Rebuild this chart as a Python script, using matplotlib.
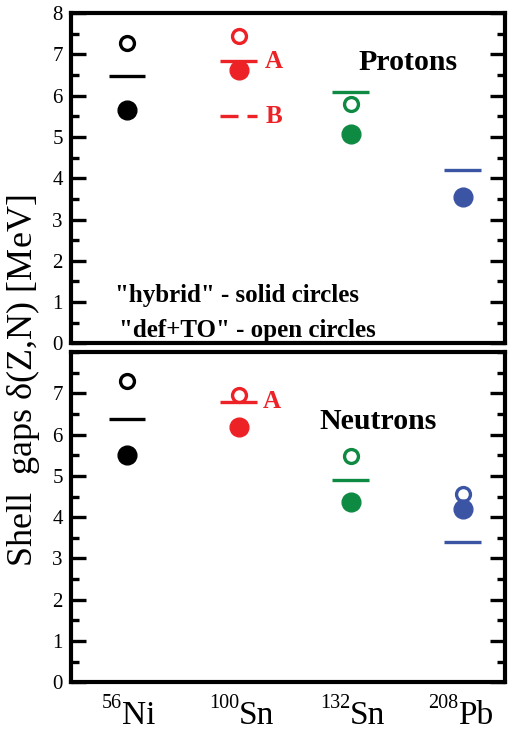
import numpy as np
import matplotlib.pyplot as plt
from matplotlib.ticker import MultipleLocator
import matplotlib.transforms as mtransforms

plt.rcParams['font.family'] = ['Liberation Serif', 'DejaVu Serif']

# nuclei along the x axis
mass_numbers = ['56', '100', '132', '208']
elements = ['Ni', 'Sn', 'Sn', 'Pb']
colors = ['black', '#ec2227', '#0e8a43', '#3b54a4']

# proton shell gaps [MeV]
p_hybrid = [5.66, 6.63, 5.06, 3.54]
p_deftO = [7.27, 7.44, 5.79, 3.58]
p_exp = [6.47, 6.83, 6.08, 4.20]
p_exp_B = 5.50  # second value for 100Sn (dashed)

# neutron shell gaps [MeV]
n_hybrid = [5.50, 6.18, 4.36, 4.20]
n_deftO = [7.30, 6.97, 5.47, 4.55]
n_exp = [6.38, 6.80, 4.90, 3.41]

x = np.arange(1, 5)
half = 0.165

fig = plt.figure(figsize=(5.15, 7.32), dpi=100)
ax1 = fig.add_axes([0.138, 0.531, 0.843, 0.451])
ax2 = fig.add_axes([0.138, 0.068, 0.843, 0.451])


def draw_panel(ax, hyb, dto, exp):
    for i in range(4):
        ax.plot([x[i] - half, x[i] + half], [exp[i], exp[i]], color=colors[i], lw=2.4, solid_capstyle='butt', zorder=2)
        ax.plot(x[i], dto[i], 'o', ms=10, mfc='white', mec=colors[i], mew=2.4, zorder=3)
        ax.plot(x[i], hyb[i], 'o', ms=13.5, color=colors[i], mec=colors[i], zorder=4)
    ax.set_xlim(0.5, 4.38)
    ax.set_ylim(0, 8)
    ax.yaxis.set_major_locator(MultipleLocator(1))
    ax.yaxis.set_minor_locator(MultipleLocator(0.5))
    ax.tick_params(axis='y', which='both', direction='in', left=True, right=True, labelsize=15, pad=6)
    ax.tick_params(axis='y', which='major', length=11, width=2.4)
    ax.tick_params(axis='y', which='minor', length=6, width=2.4)
    ax.tick_params(axis='x', which='both', bottom=False, top=False, labelbottom=False)
    for s in ax.spines.values():
        s.set_linewidth(3)


draw_panel(ax1, p_hybrid, p_deftO, p_exp)
draw_panel(ax2, n_hybrid, n_deftO, n_exp)

# dashed value B for 100Sn protons
ax1.plot([x[1] - half, x[1] + half], [p_exp_B, p_exp_B], color=colors[1], lw=2.4, dashes=(5.4, 2.7), zorder=2)
ax1.text(x[1] + 0.235, p_exp[1], 'A', color=colors[1], fontsize=18, fontweight='bold', va='center', ha='left')
ax1.text(x[1] + 0.235, p_exp_B, 'B', color=colors[1], fontsize=18, fontweight='bold', va='center', ha='left')
ax2.text(x[1] + 0.215, n_exp[1], 'A', color=colors[1], fontsize=18, fontweight='bold', va='center', ha='left')

ax1.text(0.775, 0.85, 'Protons', transform=ax1.transAxes, fontsize=21.5, fontweight='bold', ha='center', va='center')
ax2.text(0.707, 0.79, 'Neutrons', transform=ax2.transAxes, fontsize=21.5, fontweight='bold', ha='center', va='center')

ax1.text(0.101, 0.145, '"hybrid" - solid circles', transform=ax1.transAxes, fontsize=18, fontweight='bold', ha='left', va='center')
ax1.text(0.111, 0.04, '"def+TO" - open circles', transform=ax1.transAxes, fontsize=18, fontweight='bold', ha='left', va='center')

# lower panel stops its labels at 7
ax2.set_yticks(np.arange(0, 8))
ax2.yaxis.set_minor_locator(MultipleLocator(0.5))

# nucleus labels below the lower panel
shift = [-0.045, 0.0, -0.005, -0.04]
trans = mtransforms.blended_transform_factory(ax2.transData, ax2.transAxes)
for i in range(4):
    ax2.text(x[i] + shift[i], -0.128, elements[i], transform=trans, fontsize=24, ha='left', va='baseline')
    ax2.text(x[i] + shift[i], -0.079, mass_numbers[i], transform=trans, fontsize=14.5, ha='right', va='baseline')

fig.text(0.044, 0.48, r'Shell  gaps $\mathregular{\delta}$(Z,N) [MeV]', rotation=90, fontsize=26, ha='center', va='center')

fig.savefig('out.png', dpi=100)
